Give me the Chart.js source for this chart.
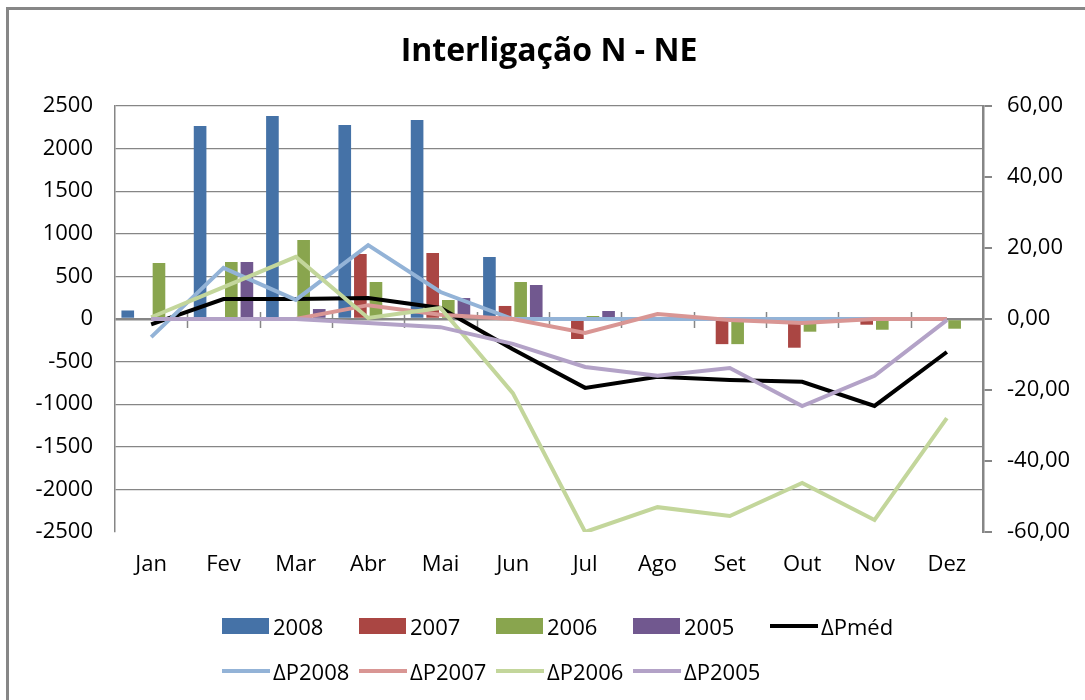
<!DOCTYPE html>
<html>
<head>
<meta charset="utf-8">
<script src="https://cdn.jsdelivr.net/npm/chart.js@4/dist/chart.umd.min.js"></script>
<style>
  body { margin: 0; background: #fff; font-family: "Open Sans", sans-serif; }
  #wrap { position: relative; width: 1085px; height: 700px; overflow: hidden; }
  #moldura { position: absolute; left: 6px; top: 7px; width: 1200px; height: 800px;
             border-left: 3px solid #878787; border-top: 3px solid #878787; }
  #legenda { position: absolute; left: 222px; top: 603px; display: grid;
             grid-template-columns: repeat(5, 137px); grid-auto-rows: 45px; }
  .item { display: flex; align-items: center; font-size: 22px; color: #000; white-space: nowrap; }
  .caixa { width: 47px; height: 16px; margin-right: 4px; }
  .linha { width: 48px; height: 4px; margin-right: 3px; }
</style>
</head>
<body>
<div id="wrap">
  <div id="moldura"></div>
  <canvas id="grafico" width="1085" height="700"></canvas>
  <div id="legenda"></div>
</div>
<script>
// meses
const meses = ['Jan', 'Fev', 'Mar', 'Abr', 'Mai', 'Jun', 'Jul', 'Ago', 'Set', 'Out', 'Nov', 'Dez'];

// barras (eixo esquerdo)
const mw2008 = [100, 2265, 2383, 2277, 2336, 728, 0, 0, 0, 0, 0, 0];
const mw2007 = [0, 0, 0, 763, 775, 153, -235, 0, -295, -337, -67, 0];
const mw2006 = [657, 669, 927, 434, 223, 434, 35, 0, -295, -149, -126, -114];
const mw2005 = [0, 669, 117, 0, 246, 399, 94, 0, 0, 0, 0, 0];

// linhas (eixo direito)
const dPmed  = [-1.5, 5.6, 5.6, 5.9, 3.1, -8.5, -19.4, -16.3, -17.2, -17.7, -24.5, -9.3];
const dP2008 = [-5.1, 14.4, 5.4, 20.8, 7.6, 0, 0, 0, 0, 0, 0, 0];
const dP2007 = [0, 0, 0, 3.9, 1.2, 0, -3.9, 1.4, -0.3, -1.1, 0, 0];
const dP2006 = [0.5, 9, 17.5, 0.3, 3.1, -20.9, -60, -53, -55.5, -46.2, -56.6, -27.9];
const dP2005 = [0, 0, 0, -1.1, -2.3, -7, -13.5, -16, -13.8, -24.5, -16, -0.3];

const cinza = '#868686';
const fonte = '"Open Sans", sans-serif';

function barra(label, data, cor) {
    return { type: 'bar', label, data, backgroundColor: cor, yAxisID: 'y', order: 10,
             categoryPercentage: 0.863, barPercentage: 0.81 };
}
function linha(label, data, cor, ordem) {
    return { type: 'line', label, data, borderColor: cor, backgroundColor: cor, borderWidth: 4,
             pointRadius: 0, tension: 0, yAxisID: 'y1', order: ordem };
}

// marcas cruzadas no eixo das categorias (linha do zero)
const marcasZero = {
    id: 'marcasZero',
    beforeDatasetsDraw(chart) {
        const x = chart.scales.x, y = chart.scales.y, ctx = chart.ctx;
        const y0 = y.getPixelForValue(0);
        const passo = x.width / meses.length;
        ctx.save();
        ctx.strokeStyle = cinza;
        ctx.lineWidth = 1.5;
        for (let i = 1; i < meses.length; i++) {
            const px = Math.round(x.left + i * passo) + 0.5;
            ctx.beginPath();
            ctx.moveTo(px, y0 - 7);
            ctx.lineTo(px, y0 + 9);
            ctx.stroke();
        }
        ctx.restore();
    }
};

const grafico = new Chart(document.getElementById('grafico'), {
    data: {
        labels: meses,
        datasets: [
            barra('2008', mw2008, '#4572A7'),
            barra('2007', mw2007, '#AA4643'),
            barra('2006', mw2006, '#89A54E'),
            barra('2005', mw2005, '#71588F'),
            linha('ΔPméd', dPmed, '#000000', 5),
            linha('ΔP2008', dP2008, '#93B3D7', 4),
            linha('ΔP2007', dP2007, '#D99694', 3),
            linha('ΔP2006', dP2006, '#C3D69B', 2),
            linha('ΔP2005', dP2005, '#B3A2C7', 1)
        ]
    },
    options: {
        responsive: false,
        animation: false,
        layout: { padding: 0 },
        plugins: {
            legend: { display: false },
            tooltip: { enabled: false },
            title: {
                display: true,
                fullSize: false,
                text: 'Interligação N - NE',
                color: '#000',
                font: { family: fonte, size: 32, weight: 'bold', lineHeight: 1 },
                padding: { top: 36, bottom: 38 }
            }
        },
        scales: {
            x: {
                grid: { display: false },
                border: { display: false },
                ticks: { color: '#000', font: { family: fonte, size: 22 }, padding: 12, maxRotation: 0 },
                afterFit: s => { s.height = 168; }
            },
            y: {
                position: 'left',
                min: -2500, max: 2500,
                ticks: { stepSize: 500, color: '#000', font: { family: fonte, size: 22 }, padding: 22,
                         callback: v => String(v) },
                grid: {
                    drawTicks: false,
                    color: c => c.tick.value === -2500 ? 'rgba(0,0,0,0)' : cinza,
                    lineWidth: c => c.tick.value === 0 ? 2.5 : 1.2
                },
                border: { color: cinza, width: 1.5 },
                afterFit: s => { s.width = 115; }
            },
            y1: {
                position: 'right',
                min: -60, max: 60,
                ticks: {
                    stepSize: 20, color: '#000', font: { family: fonte, size: 22 }, padding: 15,
                    callback: v => v.toFixed(2).replace('.', ',')
                },
                grid: { drawOnChartArea: false, color: cinza, tickLength: 9, lineWidth: 2 },
                border: { color: cinza, width: 2.5 },
                afterFit: s => { s.width = 102; }
            }
        }
    },
    plugins: [marcasZero]
});

// legenda em duas linhas, na ordem da série
const legenda = document.getElementById('legenda');
grafico.data.datasets.forEach(ds => {
    const item = document.createElement('div');
    item.className = 'item';
    const amostra = document.createElement('span');
    amostra.className = ds.type === 'bar' ? 'caixa' : 'linha';
    amostra.style.background = ds.type === 'bar' ? ds.backgroundColor : ds.borderColor;
    item.appendChild(amostra);
    item.appendChild(document.createTextNode(ds.label));
    legenda.appendChild(item);
});
</script>
</body>
</html>
